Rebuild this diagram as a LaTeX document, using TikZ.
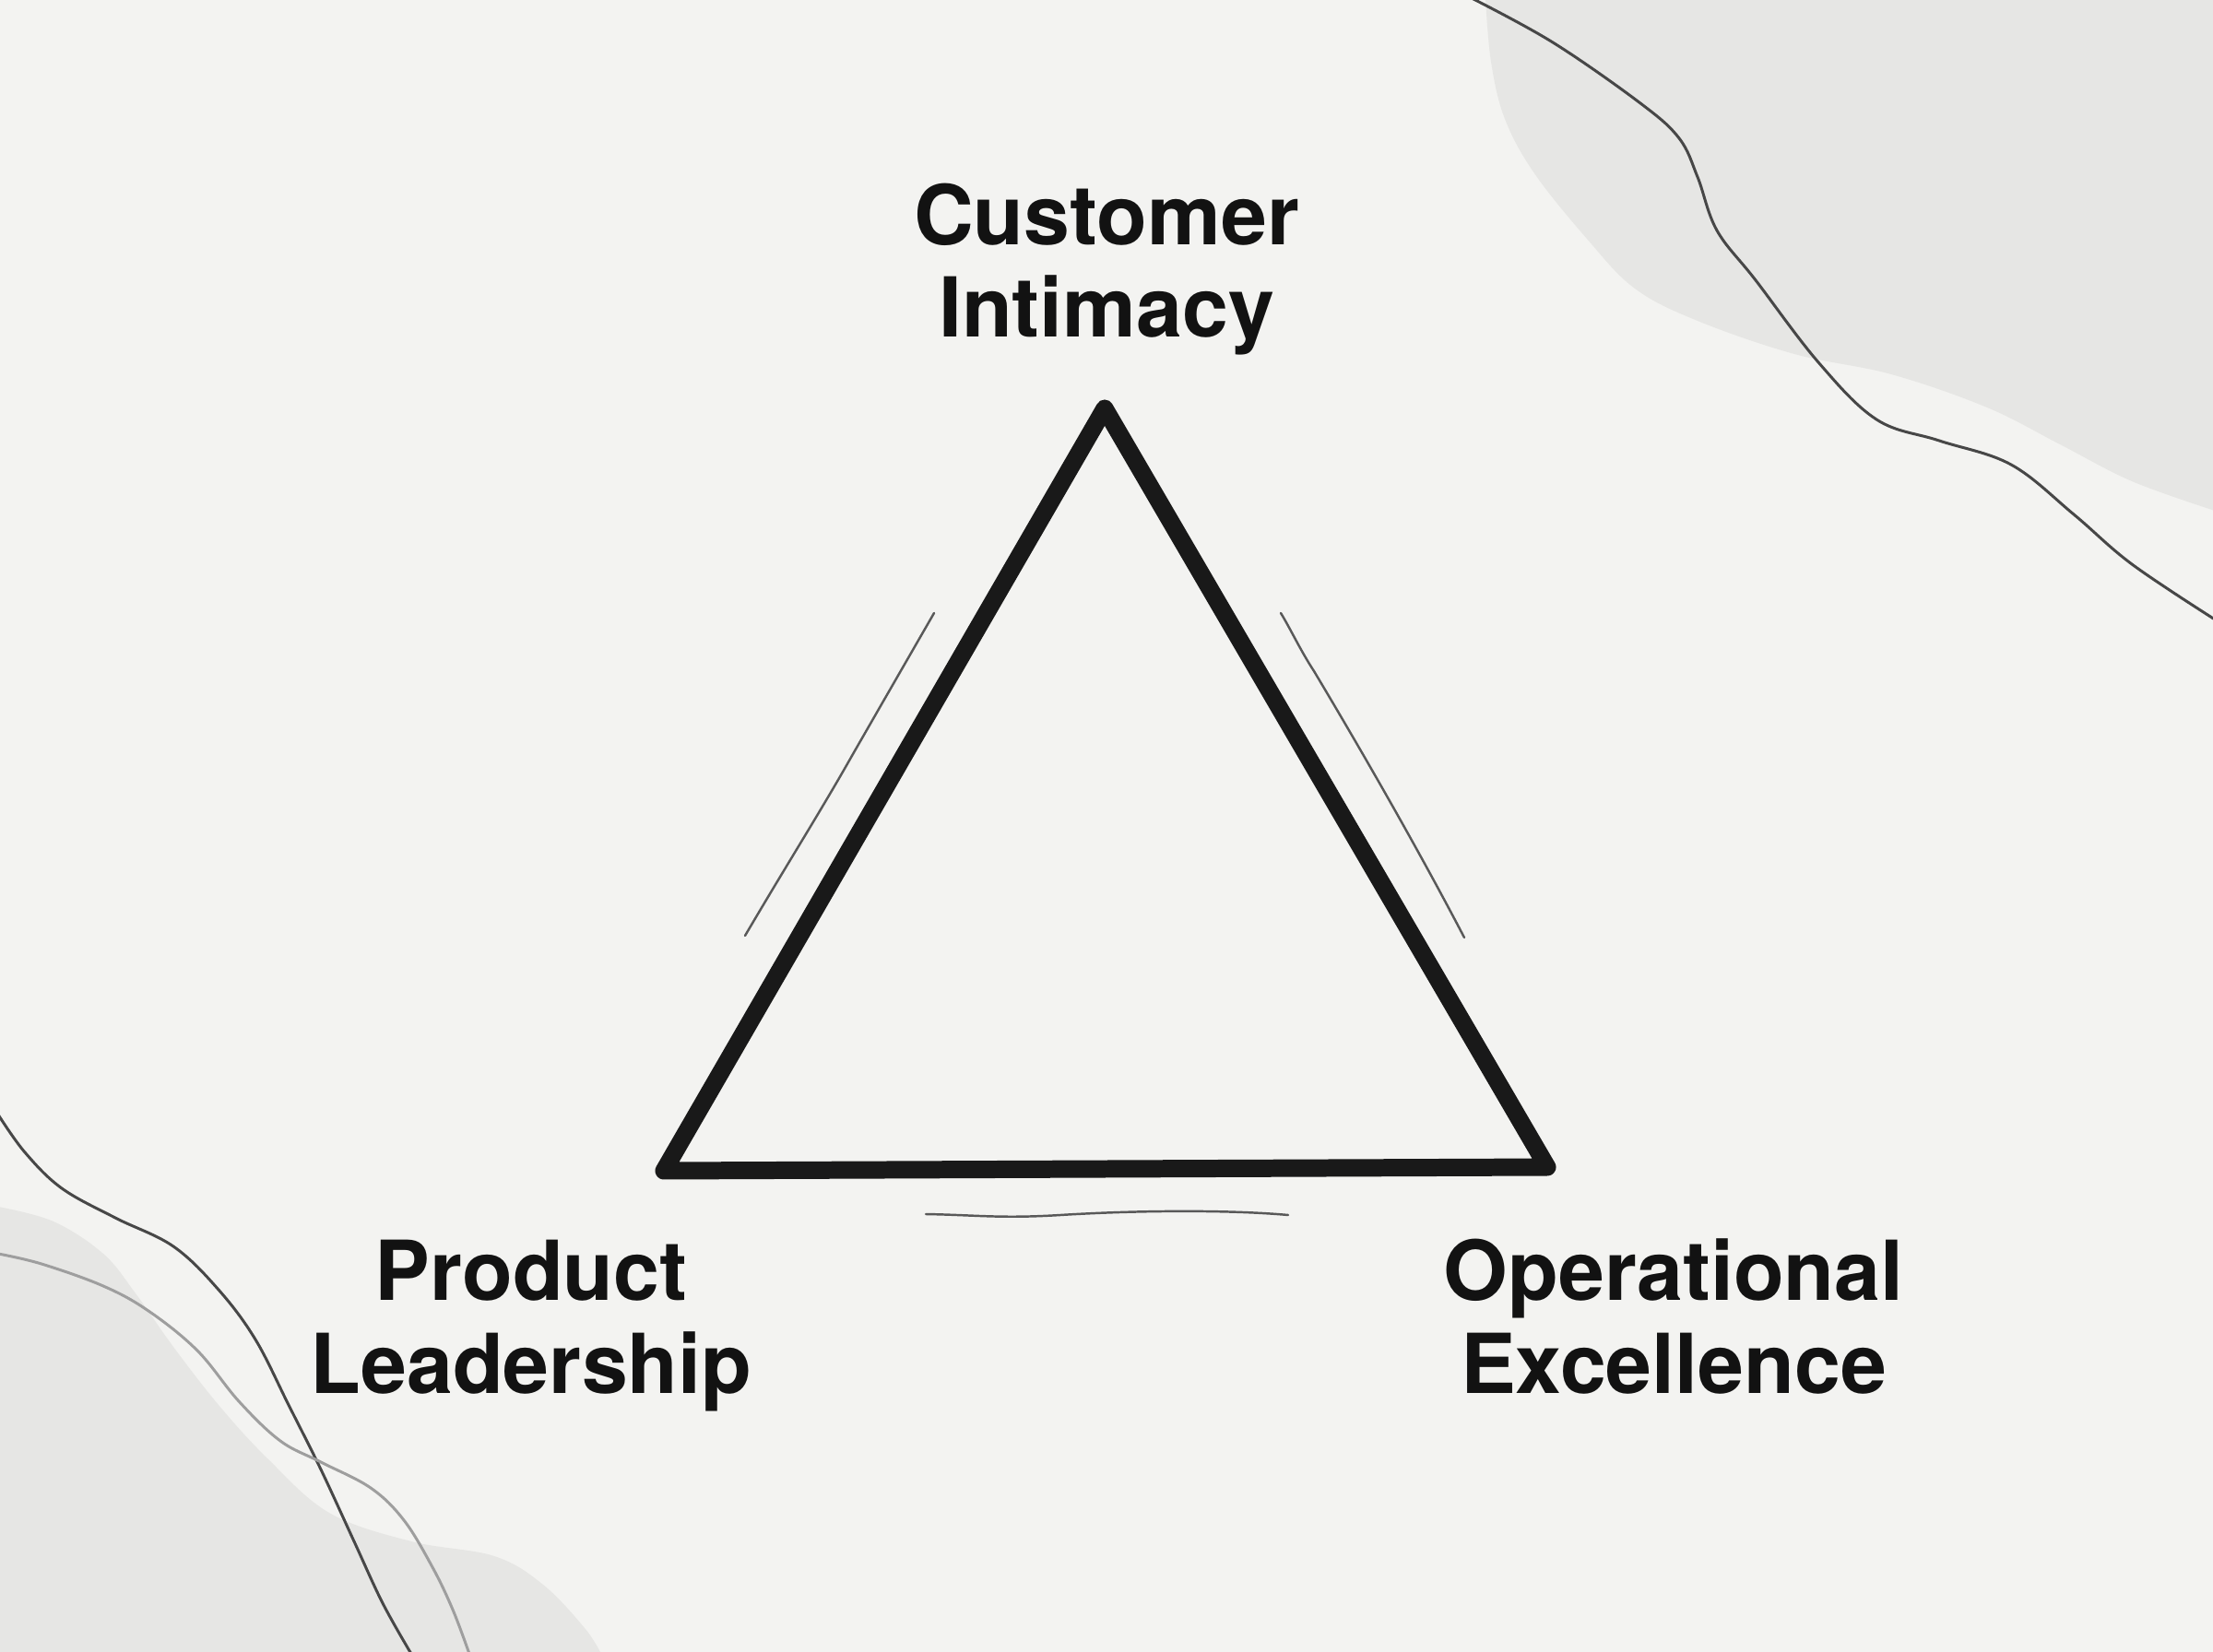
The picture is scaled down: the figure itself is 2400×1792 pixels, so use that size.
\documentclass[tikz,border=0pt]{standalone}
\usepackage{fontspec}
\setmainfont{TeX Gyre Heros}
\begin{document}
\begin{tikzpicture}[x=0.01cm,y=-0.01cm,
  label/.style={font=\fontsize{25.5}{28.6}\selectfont\bfseries, text=black!93, align=center, anchor=base, inner sep=0pt},
  tri/.style={line width=5.4pt, draw=black!90, line join=round, line cap=round},
  sketch/.style={line width=0.7pt, draw=black!65, line cap=round},
  curve/.style={line width=0.85pt, draw=black!72, line cap=round},
  lightcurve/.style={line width=0.85pt, draw=black!38, line cap=round},
  blob/.style={fill=paperblob, draw=none}]
\definecolor{paper}{HTML}{F3F3F1}
\definecolor{paperblob}{HTML}{E6E6E4}
\useasboundingbox (0,0) rectangle (2400,1792);
\fill[paper] (0,0) rectangle (2400,1792);

% background blobs
\path[blob] plot[smooth, tension=0.6] coordinates {(1611,-2) (1617,67) (1632,129) (1664,188) (1721,259) (1773,313) (1841,348) (1946,384) (2051,406) (2155,442) (2234,482) (2312,522) (2402,554)} -- (2402,-2) -- cycle;
\path[blob] plot[smooth, tension=0.6] coordinates {(-2,1309) (58,1325) (112,1360) (147,1403) (188,1461) (237,1524) (290,1582) (357,1641) (446,1672) (536,1688) (589,1719) (634,1766) (652,1794)} -- (-2,1794) -- cycle;

% decorative curves
\draw[curve] plot[smooth, tension=0.6] coordinates {(1596,-2) (1684,46) (1779,112) (1821,150) (1841,192) (1862,250) (1904,304) (1972,393) (2035,455) (2103,478) (2181,504) (2249,558) (2312,612) (2402,672)};
\draw[curve] plot[smooth, tension=0.6] coordinates {(-2,1209) (27,1250) (67,1289) (125,1321) (188,1352) (237,1399) (277,1453) (313,1524) (348,1594) (384,1672) (415,1739) (446,1794)};
\draw[lightcurve] plot[smooth, tension=0.6] coordinates {(-2,1360) (45,1371) (112,1395) (161,1422) (214,1465) (259,1520) (304,1563) (348,1586) (402,1614) (438,1649) (469,1700) (491,1746) (509,1794)};

% triangle
\coordinate (A) at (1198,443);
\coordinate (B) at (720,1270);
\coordinate (C) at (1678,1266);
\draw[tri] (A) -- (B) -- (C) -- cycle;

% sketch strokes
\coordinate (l1) at (808,1015);
\coordinate (l2) at (1013,665);
\draw[sketch] (l1) .. controls (855,935) and (890,880) .. (925,818) .. controls (960,757) and (990,705) .. (l2);
\coordinate (r1) at (1389,665);
\coordinate (r2) at (1588,1017);
\draw[sketch] (r1) .. controls (1400,683) and (1410,705) .. (1425,728) .. controls (1480,820) and (1540,925) .. (r2);
\coordinate (b1) at (1004,1317);
\coordinate (b2) at (1397,1318);
\draw[sketch] (b1) .. controls (1060,1318) and (1085,1322) .. (1150,1318) .. controls (1230,1313) and (1330,1312) .. (b2);

% labels (anchor base = baseline of last line)
\node[label] (ci) at (1200,366) {Customer\\Intimacy};
\node[label] (pl) at (576,1511) {Product\\Leadership};
\node[label] (oe) at (1815,1511) {Operational\\Excellence};
\end{tikzpicture}
\end{document}
